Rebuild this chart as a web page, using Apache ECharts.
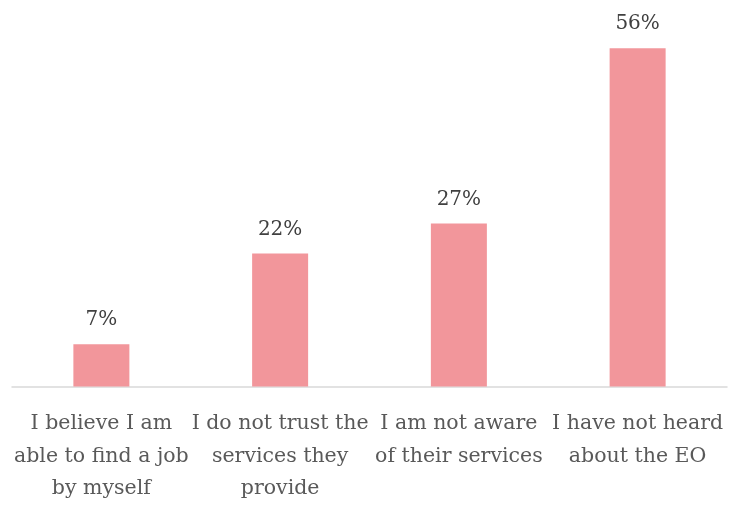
<!DOCTYPE html>
<html>
<head>
<meta charset="utf-8">
<script src="https://cdn.jsdelivr.net/npm/echarts@6/dist/echarts.min.js"></script>
<style>html,body{margin:0;padding:0;background:#fff}#c{width:730px;height:505px}</style>
</head>
<body>
<div id="c"></div>
<script>
const categories = [
  'I believe I am\nable to find a job\nby myself',
  'I do not trust the\nservices they\nprovide',
  'I am not aware\nof their services',
  'I have not heard\nabout the EO'
];
const values = [7, 22, 27, 56];

const chart = echarts.init(document.getElementById('c'));
chart.setOption({
  animation: false,
  grid: { left: 12, right: 3, top: 24, bottom: 115, containLabel: false },
  xAxis: {
    type: 'category',
    data: categories,
    axisLine: { lineStyle: { color: '#d9d9d9', width: 1.5 } },
    axisTick: { show: false },
    axisLabel: {
      interval: 0,
      margin: 21,
      color: '#595959',
      fontFamily: 'DejaVu Serif',
      fontSize: 20.5,
      lineHeight: 32.5
    }
  },
  yAxis: {
    type: 'value', min: 0, max: 60,
    show: false
  },
  series: [{
    type: 'bar',
    data: values,
    barWidth: 56,
    itemStyle: { color: '#F2969B' },
    label: {
      show: true,
      position: 'top',
      distance: 14,
      formatter: '{c}%',
      color: '#404040',
      fontFamily: 'DejaVu Serif',
      fontSize: 20
    }
  }]
});
</script>
</body>
</html>
